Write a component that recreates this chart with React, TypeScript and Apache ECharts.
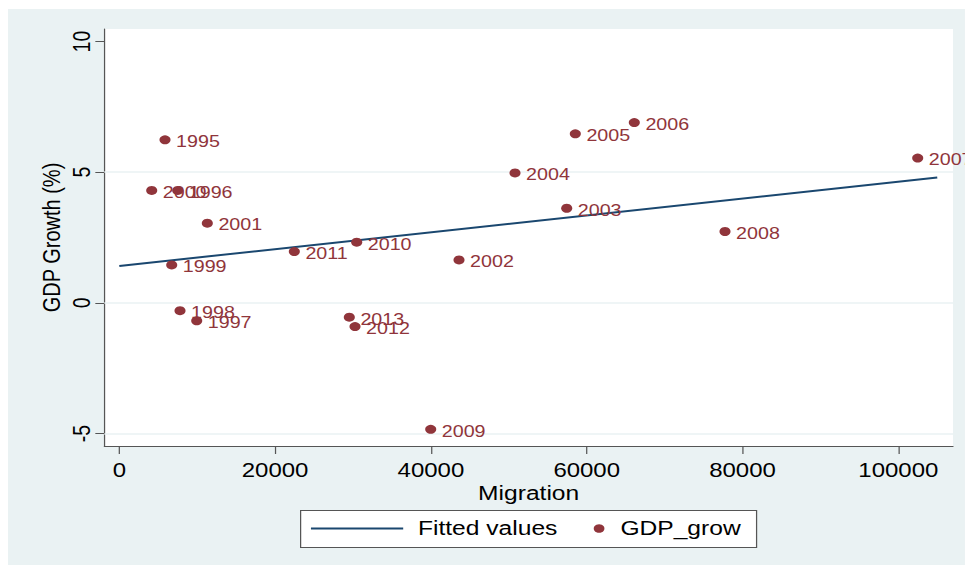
import { useEffect, useRef } from "react";
import * as echarts from "echarts";

// Annual migration against GDP growth, one labelled point per year
const years = [
  "1995", "1996", "1997", "1998", "1999", "2000", "2001", "2002", "2003", "2004",
  "2005", "2006", "2007", "2008", "2009", "2010", "2011", "2012", "2013",
];
const migration = [
  5866, 7497, 9936, 7792, 6727, 4159, 11297, 43607, 57433, 50796,
  58537, 66110, 102490, 77753, 39974, 30475, 22465, 30257, 29525,
];
const gdpGrowth = [
  6.24, 4.3, -0.69, -0.3, 1.45, 4.3, 3.05, 1.64, 3.62, 4.97,
  6.47, 6.9, 5.54, 2.73, -4.84, 2.32, 1.96, -0.91, -0.55,
];

// Linear fit of GDP growth on migration
const fittedMigration = [0, 105000];
const fittedValues = [1.41, 4.8];

const xTicks = [0, 20000, 40000, 60000, 80000, 100000];
const yTicks = [-5, 0, 5, 10];
const yGridValues = [-5, 0, 5];

const FONT = "'Liberation Sans', Arial, Helvetica, sans-serif";
const MAROON = "#90353b";
const NAVY = "#1a476f";
const BG = "#eaf2f3";
const AXIS = "#555555";

// The graph is laid out on a narrower canvas and widened horizontally.
const STRETCH = 1.23;
const WIDTH = 957 / STRETCH;
const HEIGHT = 556;

export default function App() {
  const ref = useRef<HTMLDivElement>(null);

  useEffect(() => {
    if (!ref.current) return;
    const chart = echarts.init(ref.current, undefined, { renderer: "svg" });

    const points = years.map((yr, i) => [migration[i], gdpGrowth[i], yr]);
    const fitted = fittedMigration.map((x, i) => [x, fittedValues[i]]);

    chart.setOption({
      animation: false,
      backgroundColor: BG,
      textStyle: { fontFamily: FONT },
      grid: {
        left: 78.3,
        right: 9.7,
        top: 20,
        bottom: 119,
        show: true,
        backgroundColor: "#ffffff",
        borderWidth: 0,
      },
      xAxis: {
        type: "value",
        min: -1926,
        max: 107022,
        name: "Migration",
        nameLocation: "middle",
        nameGap: 37,
        nameMoveOverlap: false,
        nameTextStyle: { fontSize: 20, color: "#000", fontFamily: FONT },
        axisLine: { show: true, onZero: false, lineStyle: { color: AXIS, width: 1 } },
        axisTick: { show: true, length: 8, customValues: xTicks, lineStyle: { color: AXIS } },
        axisLabel: {
          customValues: xTicks,
          margin: 14,
          fontSize: 19.5,
          color: "#000",
          fontFamily: FONT,
          formatter: (v: number) => String(v),
        },
        splitLine: { show: false },
      },
      yAxis: {
        type: "value",
        min: -5.48,
        max: 10.48,
        name: "GDP Growth (%)",
        nameLocation: "middle",
        nameGap: 33,
        nameMoveOverlap: false,
        nameRotate: 90,
        nameTextStyle: { fontSize: 20, color: "#000", fontFamily: FONT },
        axisLine: { show: true, onZero: false, lineStyle: { color: AXIS, width: 1 } },
        axisTick: { show: true, length: 7.3, customValues: yTicks, lineStyle: { color: AXIS } },
        axisLabel: {
          customValues: yTicks,
          rotate: 90,
          margin: 8,
          fontSize: 19.5,
          color: "#000",
          fontFamily: FONT,
          formatter: (v: number) => String(v),
        },
        splitLine: { show: false },
      },
      legend: [
        {
          data: [{ name: "Fitted values", icon: "rect" }],
          left: 246.3,
          top: 509.5,
          padding: 0,
          itemWidth: 75,
          itemHeight: 2,
          selectedMode: false,
          itemStyle: { color: NAVY },
          textStyle: { fontSize: 20, color: "#000", fontFamily: FONT, padding: [0, 0, 0, 7] },
        },
        {
          data: ["GDP_grow"],
          left: 476.2,
          top: 509.5,
          padding: 0,
          itemWidth: 8.7,
          itemHeight: 8.7,
          selectedMode: false,
          textStyle: { fontSize: 20, color: "#000", fontFamily: FONT, padding: [0, 0, 0, 8] },
        },
      ],
      graphic: [
        {
          type: "rect",
          left: 237.4,
          top: 501,
          z: 1,
          shape: { width: 370.7, height: 37 },
          style: { fill: "#ffffff", stroke: "#555555", lineWidth: 1 },
          silent: true,
        },
      ],
      series: [
        {
          name: "Fitted values",
          type: "line",
          data: fitted,
          symbol: "none",
          z: 2,
          lineStyle: { color: NAVY, width: 2 },
          itemStyle: { color: NAVY },
          emphasis: { disabled: true },
          markLine: {
            silent: true,
            symbol: ["none", "none"],
            label: { show: false },
            lineStyle: { color: BG, width: 1.5, type: "solid" },
            data: yGridValues.map((v) => ({ yAxis: v })),
            z: 1,
          },
        },
        {
          name: "GDP_grow",
          type: "scatter",
          data: points,
          symbol: "circle",
          symbolSize: 9,
          z: 3,
          itemStyle: { color: MAROON, opacity: 1 },
          emphasis: { disabled: true },
          label: {
            show: true,
            position: "right",
            distance: 4.5,
            offset: [0, 2],
            color: MAROON,
            fontSize: 16,
            fontFamily: FONT,
            formatter: (p: any) => p.value[2],
          },
        },
      ],
    });

    return () => chart.dispose();
  }, []);

  return (
    <div
      ref={ref}
      style={{
        position: "absolute",
        left: 8,
        top: 9,
        width: WIDTH,
        height: HEIGHT,
        transform: `scaleX(${STRETCH})`,
        transformOrigin: "0 0",
      }}
    />
  );
}
